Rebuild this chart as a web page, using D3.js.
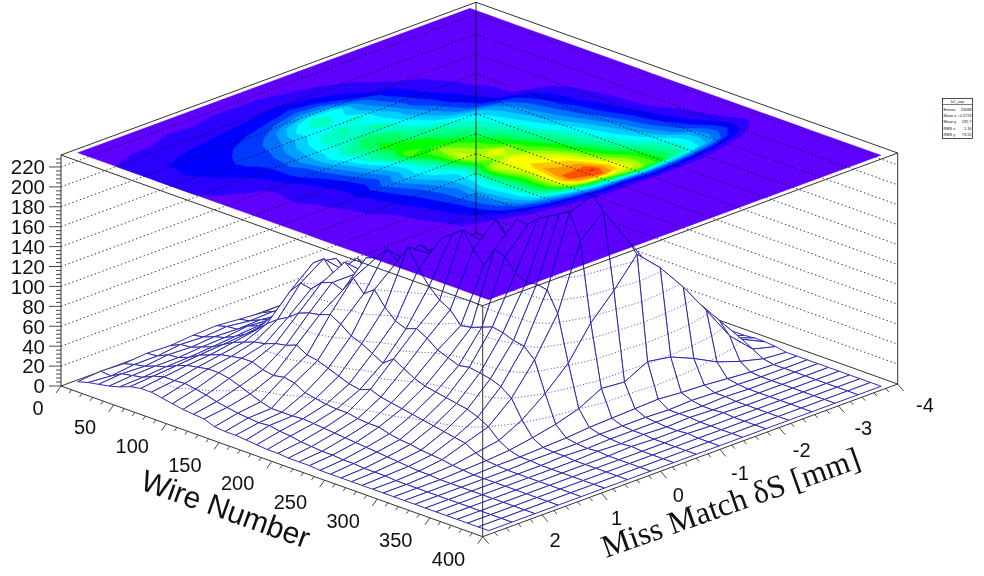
<!DOCTYPE html>
<html lang="en">
<head>
<meta charset="utf-8">
<title>Miss Match vs Wire Number</title>
<script src="https://cdn.jsdelivr.net/npm/d3@7"></script>
<style>
body { margin: 0; background: #fff; }
text { font-family: "Liberation Sans", Arial, sans-serif; fill: #111; }
</style>
</head>
<body>
<script>
// bin centres
var wires = [5,15,25,35,45,55,65,75,85,95,105,115,125,135,145,155,165,175,185,195,
             205,215,225,235,245,255,265,275,285,295,305,315,325,335,345,355,365,375,385,395];
var deltas = [2.81,2.42,2.03,1.64,1.25,0.86,0.47,0.08,-0.31,-0.69,-1.08,-1.47,-1.86,-2.25,-2.64,-3.03,-3.42,-3.81];

// counts per wire bin, one value per delta bin
var counts = [
[2,4,3,5,4,6,7,5,3,4,2,1,2,1,0,0,0,0],
[5,3,6,6,9,8,10,7,8,4,5,2,1,1,1,0,0,0],
[7,9,8,11,10,12,11,12,9,8,4,4,2,2,0,1,0,0],
[9,11,12,12,14,15,18,16,14,11,8,4,3,1,1,0,0,0],
[12,13,15,16,18,20,22,26,21,15,11,6,4,2,1,0,0,0],
[16,18,20,22,24,26,30,36,32,22,13,8,5,3,1,0,0,0],
[18,21,24,26,30,34,46,58,52,30,18,11,6,3,1,0,0,0],
[18,21,26,30,34,44,68,88,84,50,30,18,9,4,1,1,0,0],
[16,22,28,32,38,52,80,96,74,56,34,20,11,5,2,0,0,0],
[14,20,28,34,40,58,78,84,92,62,40,22,13,6,2,1,0,0],
[12,18,26,34,44,66,88,100,80,72,42,28,14,7,3,1,0,0],
[11,15,22,30,46,70,92,92,100,70,52,30,18,8,3,1,0,0],
[10,13,18,28,50,72,88,112,92,80,58,36,20,9,3,1,0,0],
[6,11,14,30,44,76,104,116,108,84,68,42,24,9,4,1,0,0],
[5,10,11,28,42,70,92,128,106,100,84,70,46,26,11,4,1,0],
[5,9,11,22,38,62,100,120,128,104,92,76,56,32,15,5,1,0],
[4,10,11,20,34,58,86,138,122,116,100,80,58,36,17,6,2,0],
[3,8,12,18,30,52,76,120,142,124,102,84,62,38,18,7,2,0],
[2,7,11,17,28,46,72,106,150,132,112,90,64,42,22,8,3,0],
[2,5,10,17,32,54,76,96,158,136,118,92,70,44,24,8,3,1],
[1,4,9,15,28,48,70,90,142,164,124,100,76,50,26,9,3,1],
[1,3,8,14,26,42,62,78,130,150,130,106,82,54,30,10,3,1],
[1,3,7,14,24,38,58,80,150,172,140,112,84,60,34,12,4,1],
[0,2,6,11,22,36,54,84,146,170,152,116,88,64,36,15,5,1],
[0,2,5,9,20,34,56,88,134,180,164,124,94,68,40,18,6,1],
[0,1,4,8,18,32,54,86,128,186,176,130,100,74,46,22,7,2],
[0,1,3,6,16,30,52,82,130,192,190,140,108,84,52,28,9,2],
[0,1,2,5,14,26,48,80,128,198,206,152,118,92,68,38,12,3],
[0,0,1,4,12,20,40,70,108,172,194,158,122,96,70,42,14,3],
[0,0,1,2,6,10,22,40,62,94,118,146,124,96,64,30,8,2],
[0,0,0,1,2,4,8,13,20,32,30,42,38,28,16,8,2,0],
[0,0,0,0,1,1,2,3,5,6,7,8,6,5,3,1,0,0],
[0,0,0,0,0,1,1,1,2,2,2,1,2,1,1,0,0,0],
[0,0,0,0,0,0,1,0,1,1,1,1,0,1,0,0,0,0],
[0,0,0,0,0,0,0,1,0,1,0,1,0,0,0,0,0,0],
[0,0,0,0,0,0,0,0,1,0,0,0,1,0,0,0,0,0],
[0,0,0,0,0,0,0,0,0,0,1,0,0,0,0,0,0,0],
[0,0,0,0,0,0,0,0,0,0,0,0,0,0,0,0,0,0],
[0,0,0,0,0,0,0,0,0,0,0,0,0,0,0,0,0,0],
[0,0,0,0,0,0,0,0,0,0,0,0,0,0,0,0,0,0]
];

var wireTicks = [0,50,100,150,200,250,300,350,400];
var deltaTicks = [2,1,0,-1,-2,-3,-4];
var zTicks = [0,20,40,60,80,100,120,140,160,180,200,220];
var zMax = 232;

var statsTitle = "h2_sep";
var statsNames = ["Entries","Mean x","Mean y","RMS x","RMS y"];
var statsValues = ["23068","-0.5723","192.7","1.16","73.55"];

var paletteColors = ["#6000ff","#2c00ff","#0000ff","#0038ff","#0070ff","#00a0ff","#00d0ff","#00ffff","#00ffc8","#00ff96",
                     "#00ff60","#00ff00","#50ff00","#a0ff00","#d8ff00","#ffff00","#ffc800","#ff9600","#ff5000","#ff0000"];
var contourStep = 10.75;

var w = 984, h = 576;
var ox = 61, oy = 386;

// oblique view: each axis adds a screen offset
var wireX = d3.scaleLinear().domain([0,400]).range([0,421.7]);
var wireY = d3.scaleLinear().domain([0,400]).range([0,150.7]);
var deltaX = d3.scaleLinear().domain([3,-4]).range([0,415]);
var deltaY = d3.scaleLinear().domain([3,-4]).range([0,-152.7]);
var zY = d3.scaleLinear().domain([0,zMax]).range([0,-231]);

function project(wire, delta, z){
    return [ox + wireX(wire) + deltaX(delta), oy + wireY(wire) + deltaY(delta) + zY(z)];
}

function line(a, b){
    return "M" + a[0] + "," + a[1] + "L" + b[0] + "," + b[1];
}

var svg = d3.select("body").append("svg")
    .attr("width", w)
    .attr("height", h)
    .style("display", "block");

svg.append("rect").attr("width", w).attr("height", h).attr("fill", "#fff");

var boxColor = "#333";

// back walls: level lines first, everything else stacks on these
var walls = svg.append("g");
walls.selectAll("path.level")
    .data(zTicks.filter(function(d){ return d > 0; }))
    .enter().append("path")
    .attr("class", "level")
    .attr("fill", "none")
    .attr("stroke", "#000")
    .attr("stroke-width", 0.8)
    .attr("stroke-dasharray", "1.4,2.6")
    .attr("d", function(d){
        return line(project(0,3,d), project(0,-4,d)) + line(project(0,-4,d), project(400,-4,d));
    });

var backEdges = [
    [[0,3,0],[0,3,zMax]], [[0,-4,0],[0,-4,zMax]], [[400,-4,0],[400,-4,zMax]],
    [[0,3,0],[0,-4,0]], [[0,-4,0],[400,-4,0]],
    [[0,3,zMax],[0,-4,zMax]], [[0,-4,zMax],[400,-4,zMax]]
];
walls.selectAll("path.edge")
    .data(backEdges)
    .enter().append("path")
    .attr("class", "edge")
    .attr("fill", "none")
    .attr("stroke", boxColor)
    .attr("stroke-width", 1)
    .attr("d", function(d){ return line(project.apply(null, d[0]), project.apply(null, d[1])); });

// surface cells, far corner first
var cells = [];
for (var i = 0; i < wires.length - 1; i++){
    for (var j = deltas.length - 2; j >= 0; j--){
        cells.push({i: i, j: j});
    }
}

function corners(c){
    return [[c.i,c.j],[c.i+1,c.j],[c.i+1,c.j+1],[c.i,c.j+1]].map(function(p){
        return {wire: wires[p[0]], delta: deltas[p[1]], z: counts[p[0]][p[1]]};
    });
}

function quadPath(c){
    return "M" + corners(c).map(function(p){ return project(p.wire, p.delta, p.z).join(","); }).join("L") + "Z";
}

// dotted iso lines at the z grid levels
function isoPath(c){
    var pts = corners(c), out = "";
    zTicks.slice(1).forEach(function(level){
        var hits = [];
        for (var k = 0; k < 4; k++){
            var a = pts[k], b = pts[(k+1)%4];
            if ((a.z < level) != (b.z < level)){
                var f = (level - a.z) / (b.z - a.z);
                hits.push(project(a.wire + f*(b.wire-a.wire), a.delta + f*(b.delta-a.delta), level));
            }
        }
        if (hits.length >= 2) out += line(hits[0], hits[1]);
        if (hits.length == 4) out += line(hits[2], hits[3]);
    });
    return out;
}

// white copy of the surface hides the wall lines behind it
svg.append("g").selectAll("path")
    .data(cells)
    .enter().append("path")
    .attr("d", quadPath)
    .attr("fill", "#fff")
    .attr("stroke", "#fff")
    .attr("stroke-width", 0.6);

// contour plane on the lid of the box
var flat = [];
deltas.forEach(function(d, j){
    wires.forEach(function(v, i){ flat.push(counts[i][j]); });
});
var levels = paletteColors.map(function(c, i){ return i * contourStep; });
var contours = d3.contours().size([wires.length, deltas.length]).thresholds(levels)(flat);

var gridToWire = d3.scaleLinear().domain([0.5, wires.length-0.5]).range([wires[0], wires[wires.length-1]]).clamp(true);
var gridToDelta = d3.scaleLinear().domain([0.5, deltas.length-0.5]).range([deltas[0], deltas[deltas.length-1]]).clamp(true);
var lid = d3.geoPath(d3.geoTransform({
    point: function(x, y){
        var p = project(gridToWire(x), gridToDelta(y), zMax);
        this.stream.point(p[0], p[1]);
    }
}));

svg.append("g")
    .style("mix-blend-mode", "multiply")
    .selectAll("path")
    .data(contours)
    .enter().append("path")
    .attr("d", lid)
    .attr("fill", function(d, i){ return paletteColors[i]; })
    .attr("stroke", function(d, i){ return paletteColors[i]; })
    .attr("stroke-width", 0.3);

// surface mesh, multiplied so its white does not cover the lid
var mesh = svg.append("g").style("mix-blend-mode", "multiply");
var cellG = mesh.selectAll("g")
    .data(cells)
    .enter().append("g");
cellG.append("path")
    .attr("d", quadPath)
    .attr("fill", "#fff")
    .attr("stroke", "#2c2cb2")
    .attr("stroke-width", 1)
    .attr("stroke-linejoin", "round");
cellG.append("path")
    .attr("d", isoPath)
    .attr("fill", "none")
    .attr("stroke", "#3a3ac4")
    .attr("stroke-width", 0.8)
    .attr("stroke-dasharray", "1.2,2");

// front edges of the box
var frontEdges = [
    [[0,3,0],[400,3,0]], [[400,3,0],[400,-4,0]], [[400,3,0],[400,3,zMax]],
    [[0,3,zMax],[400,3,zMax]], [[400,3,zMax],[400,-4,zMax]]
];
svg.append("g").selectAll("path")
    .data(frontEdges)
    .enter().append("path")
    .attr("fill", "none")
    .attr("stroke", boxColor)
    .attr("stroke-width", 1)
    .attr("d", function(d){ return line(project.apply(null, d[0]), project.apply(null, d[1])); });

// ticks
var axes = svg.append("g").attr("stroke", "#333").attr("stroke-width", 0.9).attr("fill", "none");

d3.range(0, 401, 10).forEach(function(t){
    var a = project(t, 3, 0), s = t % 50 == 0 ? 1 : 0.5;
    axes.append("path").attr("d", line(a, [a[0]-5*s, a[1]+7*s]));
});
d3.range(-20, 16, 1).forEach(function(t){
    var v = t / 5, a = project(400, v, 0), s = t % 5 == 0 ? 1 : 0.5;
    axes.append("path").attr("d", line(a, [a[0]+6*s, a[1]+7*s]));
});
d3.range(0, zMax, 4).forEach(function(t){
    var a = project(0, 3, t), s = t % 20 == 0 ? 12 : 5;
    axes.append("path").attr("d", line(a, [a[0]-s, a[1]]));
});

// tick labels
svg.append("g").selectAll("text")
    .data(zTicks)
    .enter().append("text")
    .attr("x", 45)
    .attr("y", function(d){ return project(0,3,d)[1]; })
    .attr("dy", "0.36em")
    .attr("text-anchor", "end")
    .attr("font-size", 20.5)
    .text(function(d){ return d; });

svg.append("g").selectAll("text")
    .data(wireTicks)
    .enter().append("text")
    .attr("x", function(d){ return project(d,3,0)[0] - 17.5; })
    .attr("y", function(d){ return project(d,3,0)[1] + 29; })
    .attr("text-anchor", "end")
    .attr("font-size", 20)
    .text(function(d){ return d; });

var deltaLabelX = d3.scaleLinear().domain([2,-4]).range([555,925]);
var deltaLabelY = d3.scaleLinear().domain([2,-4]).range([540,405]);
svg.append("g").selectAll("text")
    .data(deltaTicks)
    .enter().append("text")
    .attr("x", deltaLabelX)
    .attr("y", deltaLabelY)
    .attr("dy", "0.36em")
    .attr("text-anchor", "middle")
    .attr("font-size", 20)
    .text(function(d){ return d; });

// axis titles
svg.append("text")
    .attr("transform", "translate(139,489) rotate(19.7)")
    .attr("font-size", 30)
    .text("Wire Number");

svg.append("text")
    .attr("transform", "translate(606,558) rotate(-19.5)")
    .style("font-family", "'Liberation Serif', 'Times New Roman', serif")
    .attr("font-size", 32)
    .text("Miss Match \u03b4S [mm]");

// stats box
var stats = svg.append("g");
stats.append("rect").attr("x", 942.5).attr("y", 98.5).attr("width", 30).attr("height", 40)
    .attr("fill", "#fff").attr("stroke", "#222").attr("stroke-width", 0.8);
stats.append("path").attr("d", "M942.5,104.5H972.5").attr("stroke", "#222").attr("stroke-width", 0.6);
stats.append("text").attr("x", 957.5).attr("y", 103).attr("text-anchor", "middle")
    .attr("font-size", 3.9).text(statsTitle);
statsNames.forEach(function(n, i){
    stats.append("text").attr("x", 943.5).attr("y", 110.5 + i*6.4).attr("font-size", 3.9).text(n);
    stats.append("text").attr("x", 971.5).attr("y", 110.5 + i*6.4).attr("text-anchor", "end")
        .attr("font-size", 3.9).text(statsValues[i]);
});
</script>
</body>
</html>
